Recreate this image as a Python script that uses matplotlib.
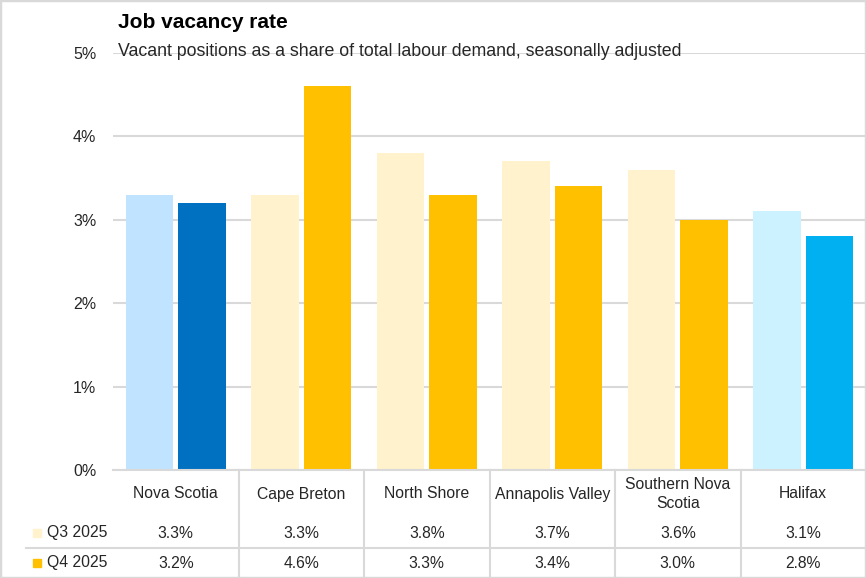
import matplotlib.pyplot as plt
import matplotlib.transforms as mtransforms
from matplotlib.lines import Line2D
from matplotlib.patches import Rectangle
from matplotlib.ticker import FuncFormatter

regions = ["Nova Scotia", "Cape Breton", "North Shore", "Annapolis Valley",
           "Southern Nova\nScotia", "Halifax"]
q3_2025 = [3.3, 3.3, 3.8, 3.7, 3.6, 3.1]
q4_2025 = [3.2, 4.6, 3.3, 3.4, 3.0, 2.8]
series_names = ["Q3 2025", "Q4 2025"]
yticks = [0, 1, 2, 3, 4, 5]

q3_colors = ["#C0E4FF", "#FFF2CC", "#FFF2CC", "#FFF2CC", "#FFF2CC", "#CCF2FF"]
q4_colors = ["#0070C0", "#FFC000", "#FFC000", "#FFC000", "#FFC000", "#00B0F0"]
legend_colors = ["#FFF2CC", "#FFC000"]

W, H = 866, 578
GRID = "#D9D9D9"
TXT = "#262626"
plt.rcParams['font.family'] = ['Liberation Sans', 'DejaVu Sans']

fig = plt.figure(figsize=(W / 100, H / 100), dpi=100)
ax = fig.add_axes([113 / W, (H - 470) / H, (W - 113) / W, (470 - 53) / H])

x = list(range(len(regions)))
bw = 0.38
ax.bar([i - 0.21 for i in x], q3_2025, width=bw, color=q3_colors, zorder=2)
ax.bar([i + 0.21 for i in x], q4_2025, width=bw, color=q4_colors, zorder=2)

ax.set_xlim(-0.5, len(regions) - 0.5)
ax.set_ylim(0, 5)
ax.set_yticks(yticks)
ax.yaxis.set_major_formatter(FuncFormatter(lambda v, p: f"{v:.0f}%"))
ax.set_xticks([])
ax.tick_params(axis='y', length=0, pad=12, labelsize=11.5, labelcolor=TXT)
ax.grid(axis='y', color=GRID, linewidth=1.5, zorder=0)
ax.set_axisbelow(True)
for s in ["top", "right", "left"]:
    ax.spines[s].set_visible(False)
ax.spines["bottom"].set_color(GRID)
ax.spines["bottom"].set_linewidth(1.5)

# data table under the chart
tr = mtransforms.blended_transform_factory(ax.transData, fig.transFigure)
def fy(py):
    return 1 - py / H

for i, name in enumerate(regions):
    ax.text(i, fy(494), name, transform=tr, ha='center', va='center',
            fontsize=11.3, color=TXT, linespacing=1.35)
    ax.text(i, fy(533), f"{q3_2025[i]:.1f}%", transform=tr, ha='center',
            va='center', fontsize=11.3, color=TXT)
    ax.text(i, fy(563), f"{q4_2025[i]:.1f}%", transform=tr, ha='center',
            va='center', fontsize=11.3, color=TXT)

for i in range(1, len(regions)):
    fig.add_artist(Line2D([i - 0.5, i - 0.5], [fy(470), 0], transform=tr,
                          color=GRID, linewidth=1.5))
fig.add_artist(Line2D([26 / W, 1], [fy(548), fy(548)], color=GRID, linewidth=1.5))

for name, col, py in zip(series_names, legend_colors, [533, 563]):
    fig.add_artist(Rectangle((33 / W, fy(py + 4)), 8 / W, 8 / H, color=col,
                             transform=fig.transFigure))
    fig.text(47 / W, fy(py), name, ha='left', va='center', fontsize=11.3, color=TXT)

# titles
fig.text(118 / W, fy(22), "Job vacancy rate", ha='left', va='center',
         fontsize=15, fontweight='bold', color='black')
fig.text(118 / W, fy(52), "Vacant positions as a share of total labour demand, seasonally adjusted",
         ha='left', va='center', fontsize=12.8, color=TXT)

fig.add_artist(Rectangle((0, 0), 1, 1, fill=False, edgecolor=GRID, linewidth=2.5,
                         transform=fig.transFigure))

fig.savefig("out.png", dpi=100)
